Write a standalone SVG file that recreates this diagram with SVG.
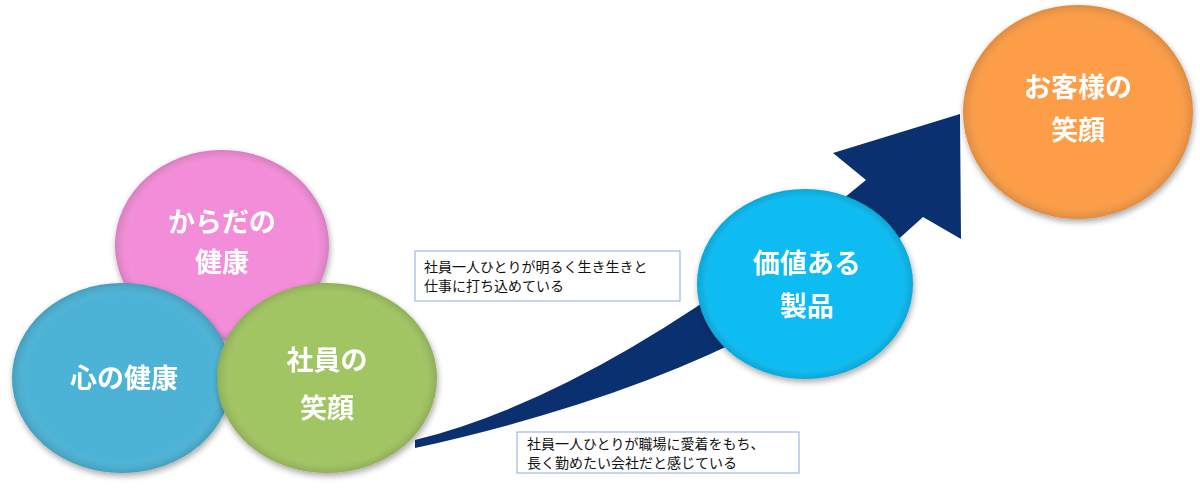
<svg xmlns="http://www.w3.org/2000/svg" width="1200" height="493" viewBox="0 0 1200 493">
<defs>
<filter id="sh" x="-20%" y="-20%" width="140%" height="140%"><feGaussianBlur in="SourceAlpha" stdDeviation="3"/><feOffset dx="1" dy="3"/><feComponentTransfer><feFuncA type="linear" slope="0.35"/></feComponentTransfer><feMerge><feMergeNode/><feMergeNode in="SourceGraphic"/></feMerge></filter>
<radialGradient id="edge" cx="0.5" cy="0.5" r="0.5"><stop offset="0.85" stop-color="#fff" stop-opacity="0"/><stop offset="1" stop-color="#000" stop-opacity="0.12"/></radialGradient>
</defs>
<style>
.t{font-family:"Noto Sans CJK JP","Noto Sans",sans-serif;font-weight:bold;fill:#fff;font-size:27px;text-anchor:middle}
.s{font-family:"Noto Sans CJK JP","Noto Sans",sans-serif;fill:#111;font-size:14px}
.box{fill:#fff;stroke:#8eaadb;stroke-width:1}
</style>
<rect width="1200" height="493" fill="#fff"/>
<g id="connectors">
<path d="M415,440 Q610,392 866,180 L833,153 L960,114 L961,239 L923,217 Q760,372 415,448 Z" fill="#0a3070"/>
</g>
<g id="karada" filter="url(#sh)"><ellipse cx="222" cy="245" rx="107" ry="95" fill="#f48dd9"/><ellipse cx="222" cy="245" rx="107" ry="95" fill="url(#edge)"/>
<text class="t" x="222" y="232">からだの</text><text class="t" x="222" y="272">健康</text></g>
<g id="kokoro" filter="url(#sh)"><ellipse cx="122" cy="378" rx="110" ry="95" fill="#4db3d6"/><ellipse cx="122" cy="378" rx="110" ry="95" fill="url(#edge)"/>
<text class="t" x="124" y="388">心の健康</text></g>
<g id="shain" filter="url(#sh)"><ellipse cx="327" cy="378" rx="110" ry="95" fill="#a2c563"/><ellipse cx="327" cy="378" rx="110" ry="95" fill="url(#edge)"/>
<text class="t" x="327" y="370">社員の</text><text class="t" x="327" y="418">笑顔</text></g>
<g id="box1"><rect class="box" x="415" y="251" width="265" height="50"/>
<text class="s" x="424" y="272">社員一人ひとりが明るく生き生きと</text><text class="s" x="424" y="291">仕事に打ち込めている</text></g>
<g id="box2"><rect class="box" x="517" y="432" width="282" height="41"/>
<text class="s" x="527" y="449">社員一人ひとりが職場に愛着をもち、</text><text class="s" x="527" y="468">長く勤めたい会社だと感じている</text></g>
<g id="kachi" filter="url(#sh)"><ellipse cx="805" cy="284" rx="108" ry="95" fill="#0bbcf3"/><ellipse cx="805" cy="284" rx="108" ry="95" fill="url(#edge)"/>
<text class="t" x="807" y="273">価値ある</text><text class="t" x="807" y="316">製品</text></g>
<g id="okyaku" filter="url(#sh)"><ellipse cx="1078" cy="112" rx="115" ry="107" fill="#fd9d47"/><ellipse cx="1078" cy="112" rx="115" ry="107" fill="url(#edge)"/>
<text class="t" x="1078" y="97">お客様の</text><text class="t" x="1078" y="140">笑顔</text></g>
</svg>
